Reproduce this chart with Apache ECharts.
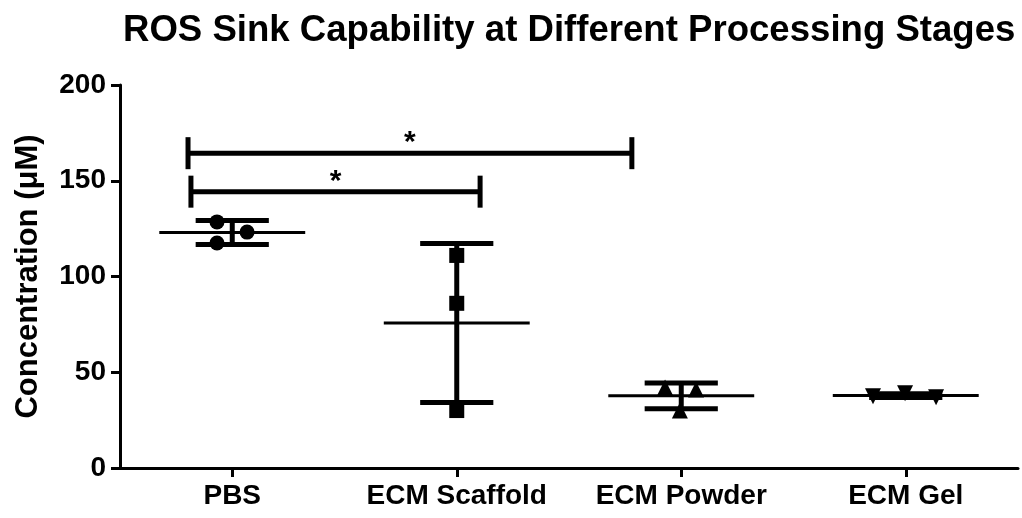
<!DOCTYPE html>
<html>
<head>
<meta charset="utf-8">
<script src="https://cdn.jsdelivr.net/npm/echarts@6/dist/echarts.min.js"></script>
<style>
  html, body { margin: 0; padding: 0; background: #fff; }
  #chart { width: 1022px; height: 518px; }
</style>
</head>
<body>
<div id="chart"></div>
<script>
const categories = ['PBS', 'ECM Scaffold', 'ECM Powder', 'ECM Gel']

// individual replicates, x = column index + horizontal scatter offset
const pbsX = [-0.068, -0.068, 0.066]
const pbsY = [128.5, 117.5, 123.2]
const scaffoldX = [1, 1, 1]
const scaffoldY = [111, 86, 30]
const powderX = [1.928, 2.066, 1.994]
const powderY = [42, 41, 30]
const gelX = [2.854, 2.997, 3.135]
const gelY = [37.5, 39, 37]

// mean and SD per column
const means = [123, 75.7, 37.7, 37.8]
const sds = [6.3, 41.5, 6.7, 1.0]

// significance brackets: [from, to, height, label]
const brackets = [
    [-0.197, 1.78, 164.4, '*'],
    [-0.184, 1.104, 144.3, '*']
]

const yTicks = [0, 50, 100, 150, 200]

const font = 'Liberation Sans, Arial, sans-serif'

function pts(xs, ys) {
    return xs.map((x, i) => [x, ys[i]])
}

const chart = echarts.init(document.getElementById('chart'))

const markerBase = {
    type: 'scatter',
    xAxisIndex: 1,
    itemStyle: { color: '#000', opacity: 1 },
    z: 3,
    silent: true
}

chart.setOption({
    animation: false,
    title: {
        text: 'ROS Sink Capability at Different Processing Stages',
        left: 118,
        top: 7,
        textStyle: { fontFamily: font, fontWeight: 'bold', fontSize: 36.6, color: '#000' }
    },
    grid: { left: 120, right: 4, top: 85, bottom: 50 },
    xAxis: [
        {
            type: 'category',
            data: categories,
            axisLine: { show: true, lineStyle: { color: '#000', width: 3 } },
            axisTick: { show: true, alignWithLabel: true, interval: 0, length: 9, lineStyle: { color: '#000', width: 3 } },
            axisLabel: { interval: 0, fontFamily: font, fontWeight: 'bold', fontSize: 28, color: '#000', margin: 14 }
        },
        {
            type: 'value',
            min: -0.5,
            max: 3.5,
            show: false
        }
    ],
    yAxis: {
        type: 'value',
        min: yTicks[0],
        max: yTicks[yTicks.length - 1],
        interval: 50,
        name: 'Concentration (μM)',
        nameLocation: 'middle',
        nameGap: 76,
        nameTextStyle: { fontFamily: font, fontWeight: 'bold', fontSize: 31, color: '#000' },
        axisLine: { show: true, onZero: false, lineStyle: { color: '#000', width: 3 } },
        axisTick: { show: true, length: 9, lineStyle: { color: '#000', width: 3 } },
        axisLabel: { fontFamily: font, fontWeight: 'bold', fontSize: 28, color: '#000', margin: 14 },
        splitLine: { show: false }
    },
    series: [
        { ...markerBase, name: 'PBS', symbol: 'circle', symbolSize: 15, data: pts(pbsX, pbsY) },
        { ...markerBase, name: 'ECM Scaffold', symbol: 'rect', symbolSize: 15, data: pts(scaffoldX, scaffoldY) },
        { ...markerBase, name: 'ECM Powder', symbol: 'triangle', symbolSize: 16, data: pts(powderX, powderY) },
        { ...markerBase, name: 'ECM Gel', symbol: 'triangle', symbolRotate: 180, symbolSize: 16, data: pts(gelX, gelY) },
        {
            type: 'custom',
            xAxisIndex: 1,
            silent: true,
            z: 4,
            data: means.map((m, i) => [i, m, sds[i]]),
            renderItem: (params, api) => {
                const x = api.value(0)
                const m = api.value(1)
                const sd = api.value(2)
                const mid = api.coord([x, m])
                const top = api.coord([x, m + sd])
                const bot = api.coord([x, m - sd])
                const halfMean = api.size([0.325, 0])[0]
                const halfCap = api.size([0.163, 0])[0]
                return {
                    type: 'group',
                    children: [
                        { type: 'line', shape: { x1: mid[0] - halfMean, y1: mid[1], x2: mid[0] + halfMean, y2: mid[1] }, style: { stroke: '#000', lineWidth: 3 } },
                        { type: 'line', shape: { x1: mid[0], y1: top[1], x2: mid[0], y2: bot[1] }, style: { stroke: '#000', lineWidth: 5 } },
                        { type: 'line', shape: { x1: mid[0] - halfCap, y1: top[1], x2: mid[0] + halfCap, y2: top[1] }, style: { stroke: '#000', lineWidth: 5 } },
                        { type: 'line', shape: { x1: mid[0] - halfCap, y1: bot[1], x2: mid[0] + halfCap, y2: bot[1] }, style: { stroke: '#000', lineWidth: 5 } }
                    ]
                }
            }
        },
        {
            type: 'custom',
            xAxisIndex: 1,
            silent: true,
            z: 4,
            data: brackets,
            renderItem: (params, api) => {
                const a = api.coord([api.value(0), api.value(2)])
                const b = api.coord([api.value(1), api.value(2)])
                const label = brackets[params.dataIndex][3]
                return {
                    type: 'group',
                    children: [
                        { type: 'line', shape: { x1: a[0], y1: a[1], x2: b[0], y2: b[1] }, style: { stroke: '#000', lineWidth: 5 } },
                        { type: 'line', shape: { x1: a[0], y1: a[1] - 16, x2: a[0], y2: a[1] + 16 }, style: { stroke: '#000', lineWidth: 5 } },
                        { type: 'line', shape: { x1: b[0], y1: b[1] - 16, x2: b[0], y2: b[1] + 16 }, style: { stroke: '#000', lineWidth: 5 } },
                        {
                            type: 'text',
                            style: {
                                text: label, x: (a[0] + b[0]) / 2, y: a[1] - 10,
                                align: 'center', verticalAlign: 'middle',
                                font: 'bold 30px ' + font, fill: '#000'
                            }
                        }
                    ]
                }
            }
        }
    ]
})
</script>
</body>
</html>
